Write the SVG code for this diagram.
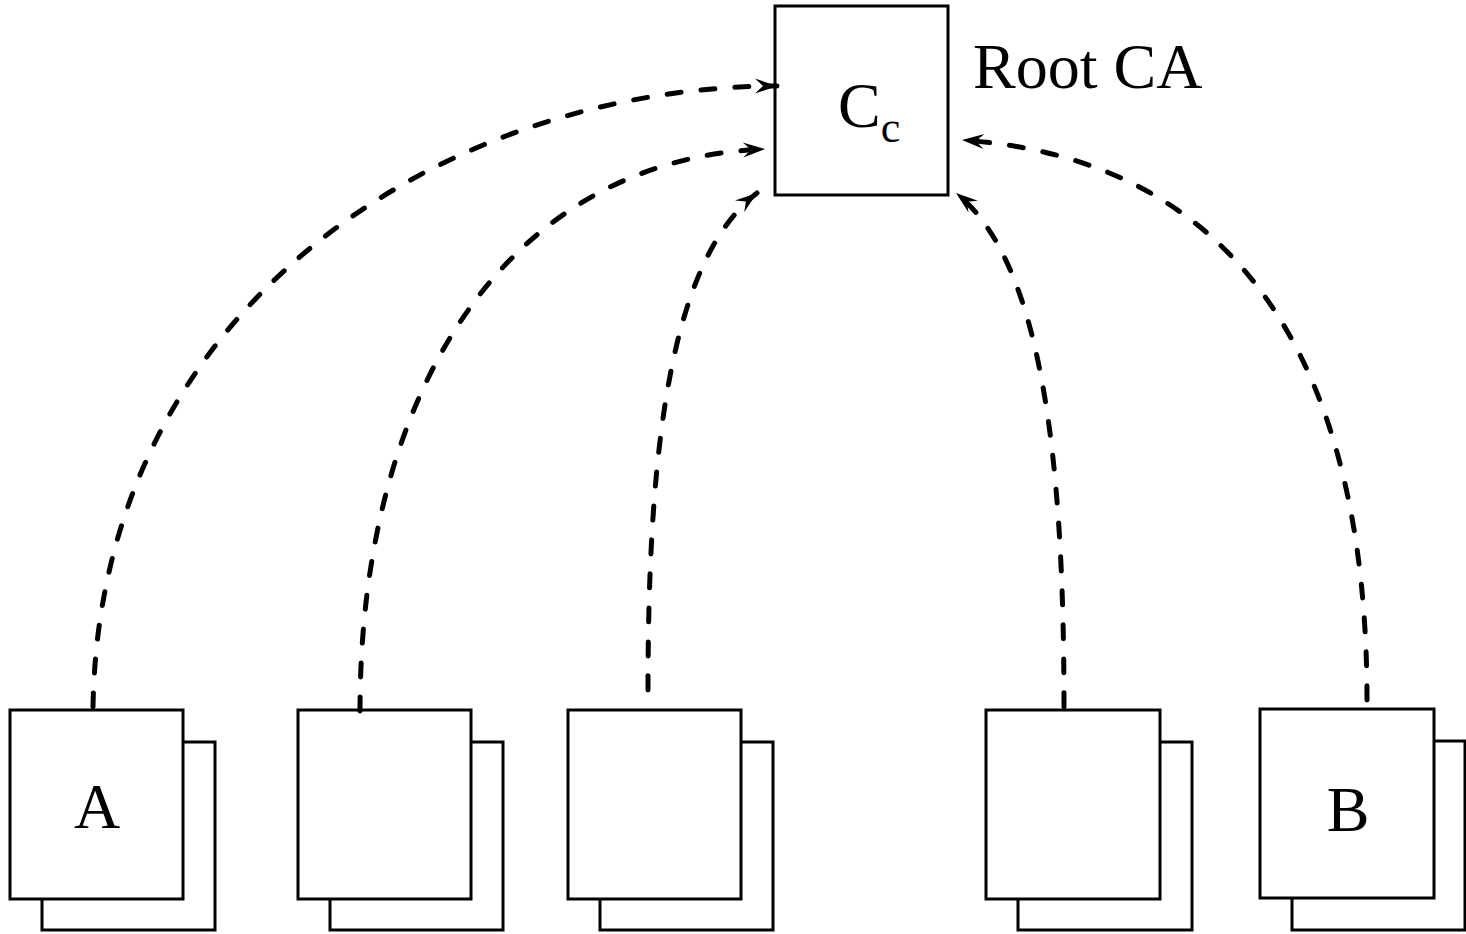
<svg xmlns="http://www.w3.org/2000/svg" width="1466" height="934" viewBox="0 0 1466 934">
<style>
.box{fill:#fff;stroke:#000;stroke-width:3}
.lbl{font-family:"Liberation Serif",serif;font-size:64px;fill:#000}
.conn{fill:none;stroke:#000;stroke-width:5;stroke-dasharray:14 20;stroke-linecap:round;marker-end:url(#ah)}
</style>
<defs>
<marker id="ah" markerUnits="userSpaceOnUse" viewBox="-24 -10 26 20" refX="0" refY="0" markerWidth="26" markerHeight="20" orient="auto">
<path d="M0,0 L-22,-7.5 L-14,0 L-22,7.5 Z" fill="#000"/>
</marker>
</defs>
<rect width="1466" height="934" fill="#fff"/>
<g id="root">
<rect class="box" x="775" y="6" width="173" height="189"/>
<text class="lbl" x="838" y="127">C<tspan font-size="44" dy="15">c</tspan></text>
<text class="lbl" x="973" y="88">Root CA</text>
</g>
<g id="nodeA">
<rect class="box" x="42" y="742" width="173" height="188"/>
<rect class="box" x="10" y="710" width="173" height="189"/>
<text class="lbl" x="97" y="828" text-anchor="middle">A</text>
</g>
<g id="node2">
<rect class="box" x="330" y="742" width="173" height="188"/>
<rect class="box" x="298" y="710" width="173" height="189"/>
</g>
<g id="node3">
<rect class="box" x="600" y="742" width="173" height="188"/>
<rect class="box" x="568" y="710" width="173" height="189"/>
</g>
<g id="node4">
<rect class="box" x="1018" y="742" width="174" height="188"/>
<rect class="box" x="986" y="710" width="174" height="189"/>
</g>
<g id="nodeB">
<rect class="box" x="1292" y="741" width="173" height="189"/>
<rect class="box" x="1260" y="709" width="174" height="189"/>
<text class="lbl" x="1348" y="831" text-anchor="middle">B</text>
</g>
<g id="connectors">
<path class="conn" d="M93,707 C100,300 450,87 777,86"/>
<path class="conn" d="M360,711 C360,400 500,160 765,149"/>
<path class="conn" d="M648,690 C648,450 670,260 757,193"/>
<path class="conn" d="M1064,707 C1064,450 1040,260 956,193"/>
<path class="conn" d="M1367,700 C1367,380 1250,160 962,140"/>
</g>
</svg>
